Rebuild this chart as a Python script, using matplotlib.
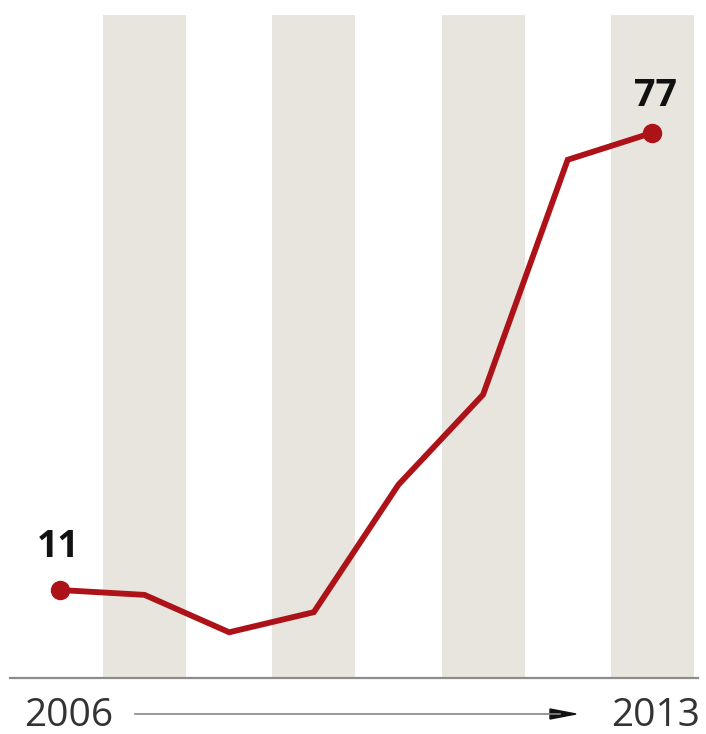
import matplotlib.pyplot as plt

years = [2006, 2007, 2008, 2009, 2010, 2011, 2012, 2013]
values = [11, 10.3, 4.9, 7.8, 26.2, 39.2, 73.1, 77]
band_years = [2007, 2009, 2011, 2013]

plt.rcParams['font.family'] = ['Open Sans', 'DejaVu Sans']

fig = plt.figure(figsize=(7.06, 7.34), dpi=100)
ax = fig.add_axes([10 / 706, 56 / 734, 688 / 706, 663 / 734])

for y in band_years:
    ax.axvspan(y - 0.49, y + 0.49, color='#e8e5de', lw=0, zorder=0)

red = '#ad1219'
ax.plot(years, values, color=red, lw=4.2, solid_joinstyle='miter', zorder=3)
ax.plot([years[0], years[-1]], [values[0], values[-1]], 'o', color=red, ms=13, zorder=4)

ax.annotate('11', (years[0], values[0]), xytext=(-2, 43), textcoords='offset pixels',
            ha='center', va='center', fontsize=27, fontweight='bold', color='#111')
ax.annotate('77', (years[-1], values[-1]), xytext=(3, 37), textcoords='offset pixels',
            ha='center', va='center', fontsize=27, fontweight='bold', color='#111')

ax.set_xlim(2005.41, 2013.54)
ax.set_ylim(-1.7, 94)
for s in ['top', 'left', 'right']:
    ax.spines[s].set_visible(False)
ax.spines['bottom'].set_color('#8c8c8c')
ax.spines['bottom'].set_linewidth(1.6)
ax.set_xticks([])
ax.set_yticks([])

fig.text(24 / 706, 1 - 716 / 734, '2006', ha='left', va='center', fontsize=28, color='#333')
fig.text(700 / 706, 1 - 716 / 734, '2013', ha='right', va='center', fontsize=28, color='#333')
fig.add_artist(plt.Line2D([135 / 706, 560 / 706], [1 - 714 / 734] * 2, color='#888', lw=1.2))
fig.add_artist(plt.Polygon([[550 / 706, 1 - 709 / 734], [576 / 706, 1 - 714 / 734], [550 / 706, 1 - 719 / 734]],
                           closed=True, color='#111'))

fig.savefig('out.png', dpi=100)
